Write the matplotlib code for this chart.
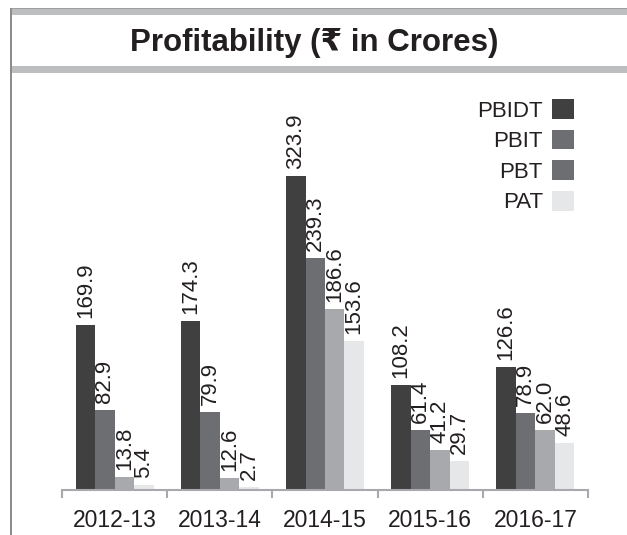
import matplotlib
matplotlib.use("Agg")
from matplotlib import pyplot as plt
from matplotlib.patches import Rectangle, Patch
from matplotlib import font_manager
import numpy as np

years = ['2012-13', '2013-14', '2014-15', '2015-16', '2016-17']
pbidt = [169.9, 174.3, 323.9, 108.2, 126.6]
pbit = [82.9, 79.9, 239.3, 61.4, 78.9]
pbt = [13.8, 12.6, 186.6, 41.2, 62.0]
pat = [5.4, 2.7, 153.6, 29.7, 48.6]
series_names = ['PBIDT', 'PBIT', 'PBT', 'PAT']

bar_colors = ['#404041', '#6d6e71', '#a7a9ac', '#e6e7e8']
legend_colors = ['#404041', '#6d6e71', '#6d6e71', '#e6e7e8']

names = {f.name for f in font_manager.fontManager.ttflist}
regular = ['Liberation Sans', 'DejaVu Sans']
if 'Liberation Sans Narrow' in names:
    narrow = ['Liberation Sans Narrow', 'DejaVu Sans']
else:
    narrow = regular
title_fam = ['Liberation Sans', 'DejaVu Sans', 'Noto Sans']

W, H = 627, 535
fig = plt.figure(figsize=(W / 100, H / 100), dpi=100)
fig.patch.set_facecolor('white')


def rect_px(x0, y0, x1, y1, color):
    fig.add_artist(Rectangle((x0 / W, 1 - y1 / H), (x1 - x0) / W, (y1 - y0) / H,
                             transform=fig.transFigure, facecolor=color,
                             edgecolor='none'))


# frame: top band, band under title, left rule
rect_px(10, 8, W, 15, '#bcbec0')
rect_px(10, 8, W, 9, '#9d9fa2')
rect_px(12, 66, W, 73, '#bcbec0')
rect_px(10, 8, 12, H, '#8a8c8e')

fig.text(314 / W, 1 - 43 / H, 'Profitability (₹ in Crores)', ha='center',
         va='center', fontsize=22.5, fontweight='bold', family=title_fam,
         color='#231f20')

ax = fig.add_axes([62 / W, (H - 490) / H, 526 / W, 400 / H])
ax.set_facecolor('none')

x = np.arange(len(years))
width = 0.185
data = [pbidt, pbit, pbt, pat]
for i, vals in enumerate(data):
    pos = x + (i - 1.5) * width
    bars = ax.bar(pos, vals, width, color=bar_colors[i], linewidth=0)
    for xx, v in zip(pos, vals):
        ax.annotate(f'{v:.1f}', (xx, v), xytext=(0, 5), textcoords='offset points',
                    rotation=90, ha='center', va='bottom', fontsize=16,
                    family=regular, color='#231f20')

ax.set_xlim(-0.5, len(years) - 0.5)
ax.set_ylim(0, 412)
for s in ['top', 'right', 'left']:
    ax.spines[s].set_visible(False)
ax.spines['bottom'].set_color('#a7a9ac')
ax.spines['bottom'].set_linewidth(1.5)
ax.set_yticks([])
ax.set_xticks(x)
ax.set_xticklabels(years, fontsize=16.5, family=narrow, color='#231f20')
ax.tick_params(axis='x', which='major', length=0, pad=14)
ax.set_xticks(np.arange(-0.5, len(years)), minor=True)
ax.tick_params(axis='x', which='minor', length=6, width=1.5, color='#a7a9ac')

handles = [Patch(facecolor=c, edgecolor='none') for c in legend_colors]
leg = fig.legend(handles, series_names, loc='upper right',
                 bbox_to_anchor=(574 / W, 1 - 99 / H), frameon=False,
                 markerfirst=False, handlelength=1.0,
                 handleheight=1.0, handletextpad=0.4, labelspacing=0.36,
                 borderpad=0, borderaxespad=0, prop={'family': regular, 'size': 16})
for t in leg.get_texts():
    t.set_color('#231f20')

fig.savefig('out.png', dpi=100)
